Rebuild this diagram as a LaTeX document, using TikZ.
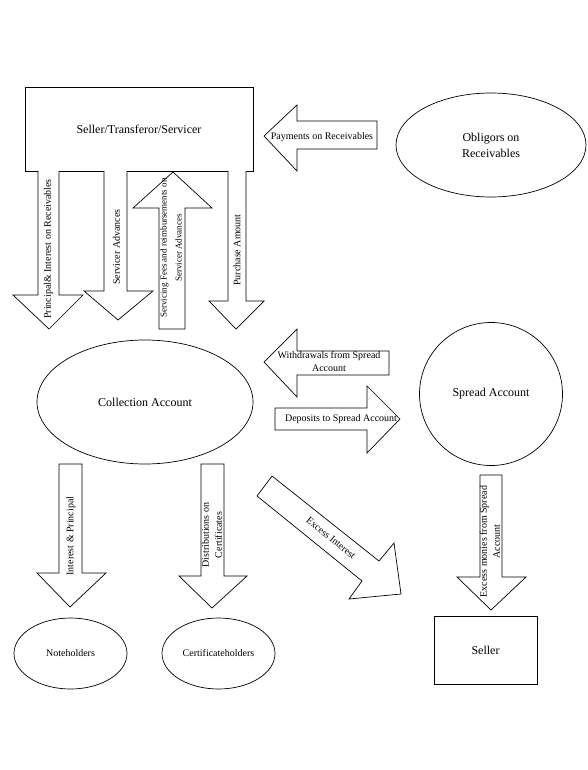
\documentclass[tikz,border=0pt]{standalone}
\usepackage{fontspec}
\setmainfont{Liberation Serif}
\usetikzlibrary{shapes.geometric}
\begin{document}
\begin{tikzpicture}[x=1pt,y=-1pt,
  ln/.style={draw=black,line width=0.7pt},
  blk/.style={ln,fill=white,line join=miter},
  big/.style={font=\fontsize{12}{16}\selectfont,align=center},
  lbl/.style={font=\fontsize{10}{13}\selectfont,align=center,inner sep=0pt},
  vlbl/.style={lbl,rotate=90},
  oval/.style={ln,ellipse,inner sep=0pt,big}]
\useasboundingbox (0,0) rectangle (588,770);
\fill[white] (0,0) rectangle (588,770);

% ---- main parties
\node[ln,rectangle,minimum width=228pt,minimum height=84pt,big] (sts) at (139,129) {Seller/Transferor/Servicer};
\node[oval,minimum width=190pt,minimum height=104pt] (obl) at (491,145) {Obligors on\\Receivables};
\node[oval,minimum width=216pt,minimum height=124pt] (coll) at (145,402) {Collection Account};
\node[ln,circle,inner sep=0pt,minimum size=143pt,big] (spread) at (491,394) {Spread Account};
\node[oval,minimum width=113pt,minimum height=71pt,font=\fontsize{10}{13}\selectfont] (notes) at (70.5,653.5) {Noteholders};
\node[oval,minimum width=113pt,minimum height=71pt,font=\fontsize{10}{13}\selectfont] (certs) at (218.5,653.5) {Certificateholders};
\node[ln,rectangle,minimum width=103pt,minimum height=68pt,big] (seller) at (485.5,650) {Seller};

% ---- block arrows between Seller/Transferor/Servicer and Collection Account
\draw[blk] (38,171) -- (38,295) -- (13,295) -- (49,329) -- (83,295) -- (59,295) -- (59,171);
\node[vlbl] (pi) at (48.5,249) {Principal\& Interest on Receivables};

\draw[blk] (104,171) -- (104,291) -- (84,291) -- (118,320) -- (153,291) -- (127,291) -- (127,171);
\node[vlbl] (sa) at (116.5,247) {Servicer Advances};

\draw[blk] (159,329) -- (159,208) -- (133,208) -- (173,172) -- (212,208) -- (185,208) -- (185,329) -- cycle;
\node[vlbl,font=\fontsize{9}{15}\selectfont] (sf) at (171,248) {Servicing Fees and reimbursements on\\Servicer Advances};

\draw[blk] (228,171) -- (228,301) -- (209,301) -- (236,329) -- (264,301) -- (246,301) -- (246,171);
\node[vlbl] (pa) at (237,250) {Purchase Amount};

% ---- payments from obligors
\draw[blk] (377,121) -- (297,121) -- (297,105) -- (264,136) -- (297,171) -- (297,149) -- (377,149) -- cycle;
\node[lbl] (pay) at (322,137) {Payments on Receivables};

% ---- spread account flows
\draw[blk] (389,351) -- (297,351) -- (297,329) -- (264,362) -- (297,397) -- (297,375) -- (389,375) -- cycle;
\node[lbl] (wd) at (329,361.5) {Withdrawals from Spread\\Account};

\draw[blk] (275,408) -- (367,408) -- (367,386) -- (400,419) -- (367,453) -- (367,430) -- (275,430) -- cycle;
\node[lbl] (dep) at (341,419) {Deposits to Spread Account};

% ---- distributions
\draw[blk] (59,464) -- (59,573) -- (37,573) -- (70,607) -- (106,573) -- (82,573) -- (82,464) -- cycle;
\node[vlbl] (ip) at (71,536) {Interest \& Principal};

\draw[blk] (201,464) -- (201,576) -- (179,576) -- (212,608) -- (247,576) -- (224,576) -- (224,464) -- cycle;
\node[vlbl] (dc) at (212,535) {Distributions on\\Certificates};

\draw[blk] (272,476) -- (379,561) -- (394,543) -- (401,594) -- (349,599) -- (362,581) -- (257,496) -- cycle;
\node[lbl,rotate=-39] (ei) at (331,538) {Excess Interest};

\draw[blk] (480,475) -- (480,577) -- (457,577) -- (491,610) -- (526,577) -- (502,577) -- (502,475) -- cycle;
\node[vlbl] (em) at (490,541.5) {Excess monies from Spread\\Account};
\end{tikzpicture}
\end{document}
